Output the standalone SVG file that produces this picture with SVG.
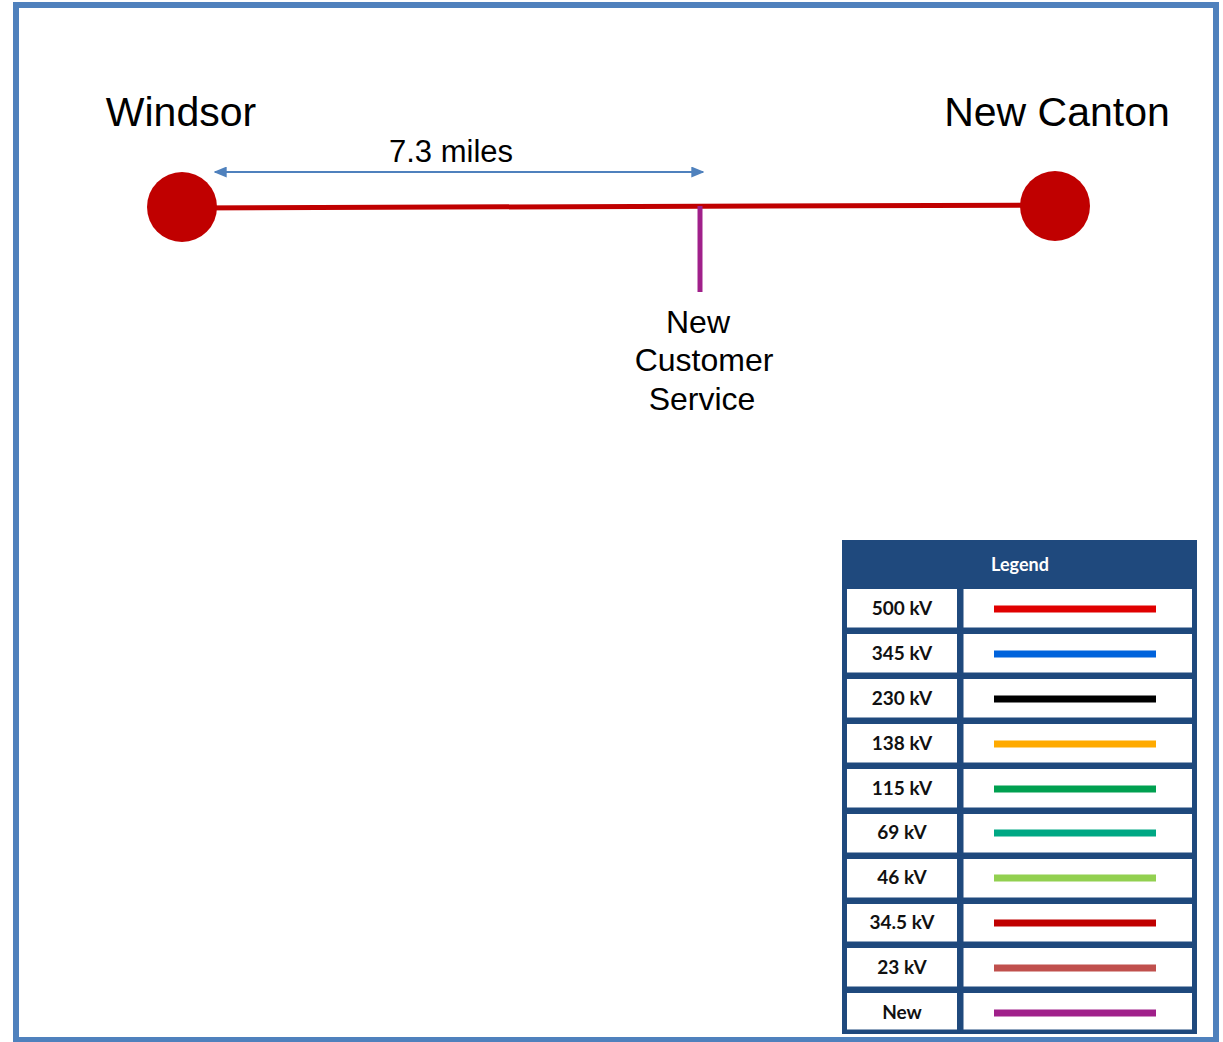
<svg xmlns="http://www.w3.org/2000/svg" width="1223" height="1042" viewBox="0 0 1223 1042">
<style>
.lbl{font-family:"Liberation Sans",Arial,sans-serif;fill:#000}
.lg{font-family:Lato,"Open Sans",sans-serif;font-weight:bold;font-size:19px;fill:#111;text-anchor:middle}
.cell{fill:#fff;stroke:#1F497D;stroke-width:3}
.sw{stroke-width:7;fill:none}
</style>
<defs>
<marker id="ah" viewBox="0 0 10 10" refX="9" refY="5" markerWidth="13" markerHeight="11" markerUnits="userSpaceOnUse" orient="auto-start-reverse" preserveAspectRatio="none">
<path d="M0,0 L10,5 L0,10 z" fill="#4F81BD"/>
</marker>
</defs>
<rect x="0" y="0" width="1223" height="1042" fill="#fff"/>
<rect id="frame" x="16" y="5" width="1200" height="1035" fill="none" stroke="#4F81BD" stroke-width="6"/>
<g id="connectors">
<line x1="182" y1="208" x2="1055" y2="205" stroke="#C00000" stroke-width="5"/>
<line x1="700" y1="206" x2="700" y2="292" stroke="#A0208A" stroke-width="5"/>
<line x1="215" y1="172" x2="703" y2="172" stroke="#4F81BD" stroke-width="2" marker-start="url(#ah)" marker-end="url(#ah)"/>
</g>
<g id="windsor">
<circle cx="182" cy="207" r="35" fill="#C00000"/>
<text class="lbl" x="181" y="126" font-size="41" text-anchor="middle">Windsor</text>
</g>
<g id="newcanton">
<circle cx="1055" cy="206" r="35" fill="#C00000"/>
<text class="lbl" x="1057" y="126" font-size="41" text-anchor="middle">New Canton</text>
</g>
<g id="distance">
<text class="lbl" x="451" y="162" font-size="31" text-anchor="middle">7.3 miles</text>
</g>
<g id="customer">
<text class="lbl" font-size="32" text-anchor="middle"><tspan x="698" y="333">New</tspan><tspan x="704" y="371">Customer</tspan><tspan x="702" y="410">Service</tspan></text>
</g>
<g id="legend">
<rect x="842" y="540" width="355" height="494" fill="#1F497D"/>
<text x="1020" y="571" font-family="Lato,'Open Sans',sans-serif" font-weight="bold" font-size="18" fill="#fff" text-anchor="middle">Legend</text>
<g id="rows">
<rect class="cell" x="845.5" y="587.5" width="113" height="41.5"/><rect class="cell" x="962" y="587.5" width="231.5" height="41.5"/>
<text class="lg" x="902" y="615">500 kV</text><line class="sw" x1="994" y1="609" x2="1156" y2="609" stroke="#E00000"/>
<rect class="cell" x="845.5" y="632.5" width="113" height="41.5"/><rect class="cell" x="962" y="632.5" width="231.5" height="41.5"/>
<text class="lg" x="902" y="660">345 kV</text><line class="sw" x1="994" y1="654" x2="1156" y2="654" stroke="#0063DC"/>
<rect class="cell" x="845.5" y="677.5" width="113" height="41.5"/><rect class="cell" x="962" y="677.5" width="231.5" height="41.5"/>
<text class="lg" x="902" y="705">230 kV</text><line class="sw" x1="994" y1="699" x2="1156" y2="699" stroke="#000"/>
<rect class="cell" x="845.5" y="722.5" width="113" height="41.5"/><rect class="cell" x="962" y="722.5" width="231.5" height="41.5"/>
<text class="lg" x="902" y="750">138 kV</text><line class="sw" x1="994" y1="744" x2="1156" y2="744" stroke="#FFAA00"/>
<rect class="cell" x="845.5" y="767.5" width="113" height="41.5"/><rect class="cell" x="962" y="767.5" width="231.5" height="41.5"/>
<text class="lg" x="902" y="795">115 kV</text><line class="sw" x1="994" y1="789" x2="1156" y2="789" stroke="#00A050"/>
<rect class="cell" x="845.5" y="812.5" width="113" height="41.5"/><rect class="cell" x="962" y="812.5" width="231.5" height="41.5"/>
<text class="lg" x="902" y="839">69 kV</text><line class="sw" x1="994" y1="833" x2="1156" y2="833" stroke="#00A884"/>
<rect class="cell" x="845.5" y="857.5" width="113" height="41.5"/><rect class="cell" x="962" y="857.5" width="231.5" height="41.5"/>
<text class="lg" x="902" y="884">46 kV</text><line class="sw" x1="994" y1="878" x2="1156" y2="878" stroke="#92D050"/>
<rect class="cell" x="845.5" y="902.5" width="113" height="40.5"/><rect class="cell" x="962" y="902.5" width="231.5" height="40.5"/>
<text class="lg" x="902" y="929">34.5 kV</text><line class="sw" x1="994" y1="923" x2="1156" y2="923" stroke="#C00000"/>
<rect class="cell" x="845.5" y="946.5" width="113" height="41.5"/><rect class="cell" x="962" y="946.5" width="231.5" height="41.5"/>
<text class="lg" x="902" y="974">23 kV</text><line class="sw" x1="994" y1="968" x2="1156" y2="968" stroke="#C0504D"/>
<rect class="cell" x="845.5" y="991.5" width="113" height="39.5"/><rect class="cell" x="962" y="991.5" width="231.5" height="39.5"/>
<text class="lg" x="902" y="1019">New</text><line class="sw" x1="994" y1="1013" x2="1156" y2="1013" stroke="#A0208A"/>
</g>
</g>
</svg>
